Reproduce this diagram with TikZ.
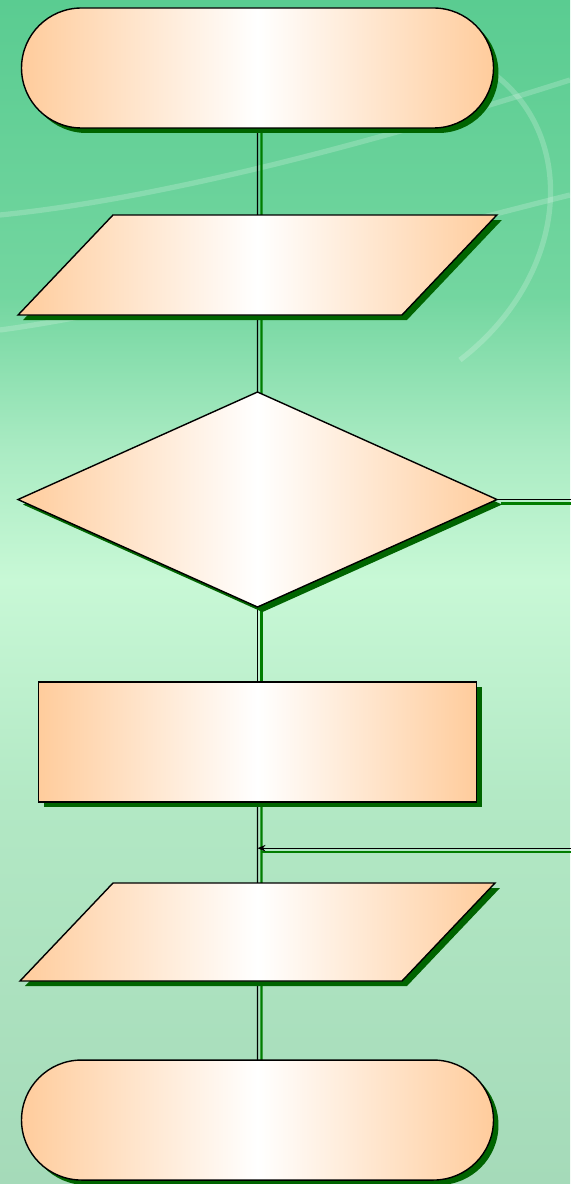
\documentclass[tikz,border=0pt]{standalone}
\usetikzlibrary{arrows.meta,shapes.geometric,shapes.misc,positioning,calc,shadows,backgrounds}
\definecolor{peach}{RGB}{255,204,156}
\definecolor{shadowgreen}{RGB}{0,100,0}
\definecolor{linegreen}{RGB}{0,125,0}
\pgfdeclareverticalshading{bgshade}{100bp}{%
    rgb(0bp)=(0.647,0.855,0.725); rgb(25bp)=(0.647,0.855,0.725);
    rgb(41bp)=(0.698,0.910,0.769); rgb(50.5bp)=(0.784,0.973,0.839);
    rgb(56bp)=(0.667,0.922,0.765); rgb(62.5bp)=(0.451,0.839,0.627);
    rgb(75bp)=(0.353,0.800,0.569); rgb(100bp)=(0.353,0.800,0.569)}

\begin{document}
\begin{tikzpicture}[
            box/.style={draw, line width=0.8pt, outer sep=0pt, inner sep=2pt,
                left color=peach, right color=peach, middle color=white,
                drop shadow={shadow xshift=0.1cm, shadow yshift=-0.1cm, fill=shadowgreen, opacity=1}},
            terminal/.style={box, rounded rectangle, minimum width=9.58cm, minimum height=2.4cm},
            io/.style={box, trapezium, trapezium left angle=46.5, trapezium right angle=133.5,
                text width=5.78cm, inner xsep=0pt},
            decision/.style={box, diamond, minimum width=9.58cm, minimum height=4.3cm},
            process/.style={box, rectangle, minimum width=8.76cm, minimum height=2.4cm},
            flow/.style={line width=0.6pt,
                preaction={draw=linegreen, line width=1.2pt, arrows=-, transform canvas={shift={(0.08cm,-0.08cm)}}}},
            swirl/.style={white, opacity=0.2, line width=3pt}
        ]
            % background
            \begin{scope}[on background layer]
                \shade[shading=bgshade] (0,0) rectangle (11.4,-23.68);
                \draw[swirl] (0,-4.3) .. controls (3,-4.0) and (7,-3.0) .. (11.4,-1.6);
                \draw[swirl] (0,-6.6) .. controls (3,-6.2) and (7,-5.0) .. (11.4,-3.9);
                \draw[swirl] (8.6,-0.9) .. controls (11.6,-1.6) and (11.8,-5.2) .. (9.2,-7.2);
            \end{scope}

            % shapes
            \node[terminal] (start) at (5.15,-1.36) {};
            \node[io, inner ysep=1cm, below=1.74cm of start] (input) {};
            \node[decision, below=1.54cm of input] (cond) {};
            \node[process, below=1.5cm of cond] (proc) {};
            \node[io, inner ysep=0.98cm, below=1.62cm of proc] (output) {};
            \node[terminal, below=1.58cm of output] (stop) {};
            \coordinate (join) at ($(proc.south)!0.57!(output.north)$);

            % connectors
            \begin{scope}[on background layer]
                \draw[flow] (start) -- (input);
                \draw[flow] (input) -- (cond);
                \draw[flow] (cond) -- (proc);
                \draw[flow] (proc) -- (output);
                \draw[flow] (output) -- (stop);
                \draw[flow, -{Stealth[length=1.6mm, width=1.3mm]}] (cond.east) -- ++(2,0) |- (join);
            \end{scope}
            \pgfresetboundingbox
            \useasboundingbox (0,0) rectangle (11.4,-23.68);
        \end{tikzpicture}
\end{document}
